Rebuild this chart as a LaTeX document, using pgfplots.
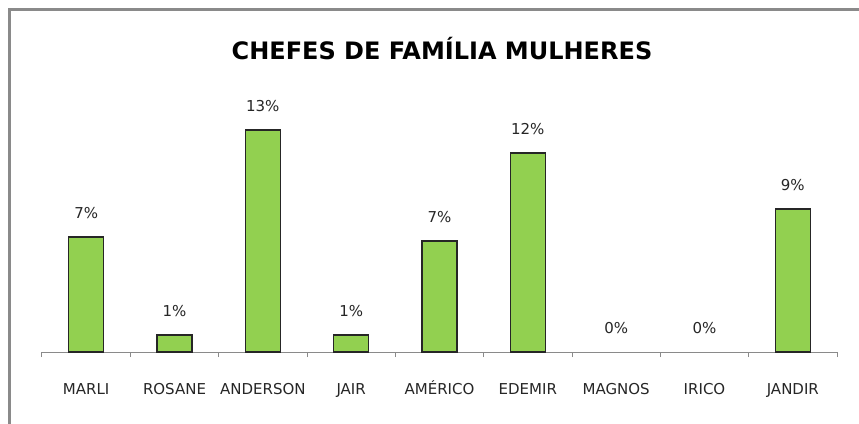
\documentclass[border=0pt]{standalone}
\usepackage{pgfplots}
\pgfplotsset{compat=1.18}
\usepackage{fontspec}
\setmainfont{DejaVu Sans}
\definecolor{barg}{HTML}{92D050}
\definecolor{frame}{HTML}{8A8A8A}
\definecolor{txt}{HTML}{262626}
\begin{document}
\begin{tikzpicture}
\useasboundingbox[fill=white] (0,0) rectangle (859pt,-423pt);
\draw[frame, line width=2.5pt] (9.5pt,-424pt) -- (9.5pt,-9.5pt) -- (860pt,-9.5pt);
\node[text=black] at (442pt,-49pt) {\fontsize{24}{28}\selectfont\bfseries CHEFES DE FAMÍLIA MULHERES};
\begin{axis}[
  at={(42pt,-352pt)}, anchor=south west,
  scale only axis, width=795pt, height=252pt,
  xmin=-0.5, xmax=8.5, ymin=0, ymax=14.65,
  axis x line=bottom, axis y line=none,
  x axis line style={-, draw=frame, line width=1pt},
  xtick={0,...,8},
  xticklabels={MARLI,ROSANE,ANDERSON,JAIR,AMÉRICO,EDEMIR,MAGNOS,IRICO,JANDIR},
  major x tick style={draw=none},
  minor xtick={-0.5,0.5,...,8.5},
  minor tick length=5pt,
  minor x tick style={draw=frame, line width=1pt},
  tick align=outside,
  xticklabel style={anchor=base, yshift=-38pt, font=\fontsize{15}{18}\selectfont, text=txt},
  clip=false,
  ybar, bar width=35pt,
  point meta=explicit symbolic,
  nodes near coords={\pgfplotspointmeta\%},
  nodes near coords style={anchor=center, yshift=24pt, font=\fontsize{15}{18}\selectfont, text=txt},
]
\addplot[bar shift=0pt, fill=barg, draw=black!85, line width=1.5pt] table[meta=lab] {
x y lab
0 6.69 7
1 0.99 1
2 12.91 13
3 0.99 1
4 6.45 7
5 11.57 12
8 8.31 9
};
\addplot[bar shift=0pt, draw=none, fill=none] table[meta=lab] {
x y lab
6 0 0
7 0 0
};
\end{axis}
\end{tikzpicture}
\end{document}
